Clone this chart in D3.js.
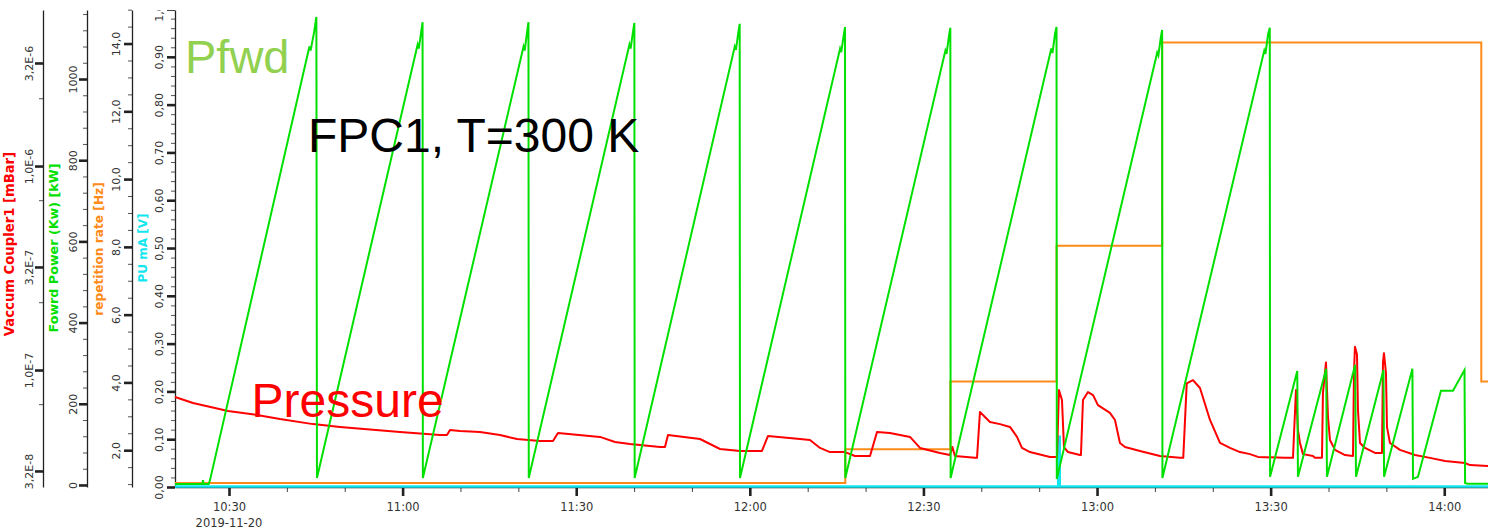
<!DOCTYPE html>
<html><head><meta charset="utf-8">
<script src="https://cdn.jsdelivr.net/npm/d3@7"></script>
<style>
body{margin:0;background:#fff}
svg{display:block}
</style>
</head><body>
<svg id="c" width="1488" height="530"></svg>
<script>
// ---- DATA (time = minutes after 10:00 on 2019-11-20) ----
const dateLabel = "2019-11-20";
const timeExtent = [20.67, 247.56];

// Vaccum Coupler1 [mBar]  (red, log axis)
const pressure = [
 [20.67,7.38e-8],[23.78,6.89e-8],[29.83,6.30e-8],[34.84,6.02e-8],[38.81,5.75e-8],[44.52,5.43e-8],
 [49.18,5.26e-8],[59.55,4.97e-8],[66.46,4.80e-8],[67.67,4.80e-8],[68.19,5.08e-8],[69.92,5.02e-8],
 [73.37,4.97e-8],[76.83,4.80e-8],[79.77,4.59e-8],[83.74,4.49e-8],[85.99,4.49e-8],[86.85,4.91e-8],
 [94.11,4.70e-8],[96.70,4.44e-8],[99.29,4.34e-8],[104.48,4.19e-8],[105.34,4.19e-8],[105.86,4.80e-8],
 [111.39,4.59e-8],[114.85,4.10e-8],[118.30,4.01e-8],[122.10,4.01e-8],[123.14,4.75e-8],[128.67,4.59e-8],
 [130.40,4.54e-8],[132.13,4.15e-8],[133.85,3.96e-8],[136.45,3.96e-8],[138.17,3.79e-8],[140.77,3.79e-8],
 [141.98,4.97e-8],[144.22,4.91e-8],[147.68,4.70e-8],[149.41,4.15e-8],[152.86,3.92e-8],[154.59,3.83e-8],
 [155.00,4.19e-8],[155.45,3.79e-8],[158.91,3.71e-8],[159.26,3.71e-8],[159.77,6.23e-8],[161.50,5.56e-8],
 [163.23,5.43e-8],[164.96,5.26e-8],[166.17,4.70e-8],[167.03,4.15e-8],[168.41,3.96e-8],[171.87,3.75e-8],
 [173.08,3.75e-8],[173.42,7.98e-8],[173.94,7.13e-8],[174.29,4.19e-8],[174.98,3.96e-8],[177.05,3.83e-8],
 [177.22,3.83e-8],[177.57,7.13e-8],[178.44,7.80e-8],[179.30,7.54e-8],[180.16,6.73e-8],[182.23,6.16e-8],
 [183.10,5.69e-8],[183.96,4.39e-8],[184.83,4.19e-8],[187.42,4.01e-8],[190.88,3.79e-8],[194.33,3.71e-8],
 [194.90,3.71e-8],[195.50,8.60e-8],[196.58,8.93e-8],[197.79,8.16e-8],[199.52,5.69e-8],[201.25,4.39e-8],
 [202.97,4.15e-8],[204.70,3.96e-8],[206.43,3.87e-8],[207.81,3.75e-8],[212.48,3.71e-8],[213.86,3.71e-8],
 [214.03,4.80e-8],[214.38,7.98e-8],[214.72,5.08e-8],[215.07,4.39e-8],[215.59,3.87e-8],[217.32,3.79e-8],
 [217.66,3.71e-8],[218.87,3.71e-8],[219.04,7.71e-8],[219.56,1.09e-7],[219.91,5.88e-8],[220.25,4.54e-8],
 [221.12,4.06e-8],[222.85,3.83e-8],[224.23,3.79e-8],[224.40,9.67e-8],[224.57,1.30e-7],[224.92,1.19e-7],
 [225.09,6.37e-8],[225.44,4.39e-8],[226.30,4.15e-8],[228.03,3.92e-8],[229.24,3.92e-8],[229.41,1.09e-7],
 [229.58,1.21e-7],[229.93,9.67e-8],[230.10,5.26e-8],[230.62,4.39e-8],[232.35,4.06e-8],[234.94,3.83e-8],
 [237.53,3.71e-8],[240.13,3.58e-8],[243.58,3.50e-8],[244.45,3.42e-8],[247.56,3.38e-8]
];

// Fowrd Power (Kw) [kW]  (green)
const power = [
 [20.67,2.5],[25.4,2.5],[25.5,12],[25.6,2.5],[26.5,2.5],
 [26.72,12],[43.9,1080],[44.1,1070],[44.7,1115],[45.1,1153],[45.2,17],
 [62.6,1085],[62.8,1075],[63.25,1120],[63.45,1140],[63.5,17],
 [80.9,1080],[81.1,1070],[81.55,1120],[81.75,1140],[81.8,17],
 [99.2,1085],[99.4,1075],[99.85,1120],[100.05,1138],[100.1,17],
 [117.4,1080],[117.6,1072],[118.05,1118],[118.25,1136],[118.3,17],
 [135.6,1075],[135.8,1066],[136.25,1110],[136.45,1128],[136.5,17],
 [153.8,1070],[154.0,1062],[154.45,1110],[154.65,1126],[154.7,17],
 [172.1,1075],[172.3,1064],[172.75,1112],[173.0,1128],[173.05,15],
 [190.4,1065],[190.6,1058],[191.05,1105],[191.25,1121],[191.3,17],
 [208.9,1070],[209.1,1062],[209.55,1110],[209.85,1126],[209.9,20],
 [214.6,281],[214.72,20],
 [219.6,286],[219.73,20],
 [224.6,296],[224.75,20],
 [229.5,283],[229.6,20],
 [234.5,286],[234.6,15],
 [235.46,20],[239.43,232],[241.51,232],[243.5,283],[243.6,5],[244.0,3],[247.56,3]
];

// repetition rate [Hz]  (orange, steps)
const rateTime = [20.67, 136.5, 154.65, 173.0, 191.25, 246.4, 247.56];
const rateHz   = [1, 2, 4, 8, 14, 4, 4];

// PU mA [V]  (cyan)
const puTime = [20.67, 173.3, 173.3, 173.55, 173.55, 247.56];
const puVolt = [0.001, 0.001, 0.105, 0.105, 0.001, 0.001];

// ---- TICKS ----
const vacTicks = [3.2e-8, 1e-7, 3.2e-7, 1e-6, 3.2e-6];
const vacLabels = ["3,2E-8","1,0E-7","3,2E-7","1,0E-6","3,2E-6"];
const vacMinor = [6.8e-8, 2.15e-7, 6.8e-7, 2.15e-6];
const powTicks = [0,200,400,600,800,1000];
const powLabels = ["0","200","400","600","800","1000"];
const rateTicks = [2,4,6,8,10,12,14];
const rateLabels = ["2,0","4,0","6,0","8,0","10,0","12,0","14,0"];
const puTicks = [0,0.1,0.2,0.3,0.4,0.5,0.6,0.7,0.8,0.9,1.0];
const puLabels = ["0,00","0,10","0,20","0,30","0,40","0,50","0,60","0,70","0,80","0,90","1,00"];
const timeTicks = [30, 60, 90, 120, 150, 180, 210, 240];
const timeLabels = ["10:30","11:00","11:30","12:00","12:30","13:00","13:30","14:00"];

// ---- DRAW ----
const svg = d3.select("#c");
const base = new Date(2019,10,20,10,0,0);
const T = m => new Date(base.getTime() + m*60000);

const x = d3.scaleTime().domain(timeExtent.map(T)).range([175,1488]);
const yVac = d3.scaleLog().domain([2.67e-8, 5.82e-6]).range([487,10]);
const yPow = d3.scaleLinear().domain([-5,1170]).range([487,10]);
const yRate = d3.scaleLinear().domain([0.914,14.99]).range([487,10]);
const yPU = d3.scaleLinear().domain([0,0.998]).range([487,10]);

const tickColor = "#222", labColor = "#333";

svg.append("defs").append("clipPath").attr("id","topclip")
  .append("rect").attr("x",-60).attr("y",10).attr("width",80).attr("height",520);

function yAxis(xPos, scale, major, labels, minor, off, title, tcol, tx, ty, tsize, clip){
  const g = svg.append("g").attr("transform",`translate(${xPos},0)`)
    .attr("font-family","DejaVu Sans, sans-serif");
  const mi = g.append("g").call(d3.axisLeft(scale).tickValues(minor).tickSize(4).tickSizeOuter(0).tickFormat(""));
  mi.select(".domain").remove();
  mi.selectAll("line").attr("stroke","#555").attr("stroke-width",1);
  const ma = g.append("g").call(d3.axisLeft(scale).tickValues(major).tickSize(8).tickSizeOuter(0).tickFormat((d,i)=>labels[i]));
  ma.attr("font-family",null).attr("font-size",null);
  ma.select(".domain").attr("stroke","#222").attr("stroke-width",1.3);
  ma.selectAll(".tick line").attr("stroke",tickColor).attr("stroke-width",2.6);
  ma.selectAll(".tick text").attr("transform","rotate(-90)").attr("x",0).attr("y",-off)
    .attr("dy",0).attr("text-anchor","middle").attr("font-size","11px").attr("fill",labColor)
    .attr("font-family","DejaVu Sans, sans-serif");
  if (clip) ma.attr("clip-path","url(#topclip)");
  svg.append("text").attr("transform",`translate(${tx},${ty}) rotate(-90)`)
    .attr("text-anchor","middle").attr("font-family","DejaVu Sans, sans-serif")
    .attr("font-weight","bold").attr("font-size",tsize+"px").attr("fill",tcol).text(title);
}

const colRed="#ff0000", colGreen="#00e000", colOrange="#ff8c1a", colCyan="#14e6f0";

yAxis(43, yVac, vacTicks, vacLabels, vacMinor, 10, "Vaccum Coupler1 [mBar]", colRed, 14, 244, 13.2, false);
yAxis(87, yPow, powTicks, powLabels, d3.range(40,1170,40).filter(v=>v%200!==0), 10, "Fowrd Power (Kw) [kW]", colGreen, 58, 248, 12.7, false);
yAxis(132, yRate, rateTicks, rateLabels, d3.range(1,15.01,0.5).filter(v=>v%2!==0), 12, "repetition rate [Hz]", colOrange, 103, 249, 12.2, false);
yAxis(175, yPU, puTicks, puLabels, d3.range(0.02,1.0,0.02).filter(v=>Math.abs(v*10-Math.round(v*10))>1e-6), 12, "PU mA [V]", colCyan, 147, 248, 12, true);

// x axis
const xg = svg.append("g").attr("transform","translate(0,487)");
const xMinor = d3.range(30,241,10).filter(m=>m%30!==0);
const xmi = xg.append("g").call(d3.axisBottom(x).tickValues(xMinor.map(T)).tickSize(5).tickSizeOuter(0).tickFormat(""));
xmi.select(".domain").remove();
xmi.selectAll("line").attr("stroke","#444").attr("stroke-width",1);
const xma = xg.append("g").call(d3.axisBottom(x).tickValues(timeTicks.map(T)).tickSize(9).tickSizeOuter(0).tickFormat((d,i)=>timeLabels[i]));
xma.select(".domain").attr("stroke","#222").attr("stroke-width",1.5);
xma.selectAll(".tick line").attr("stroke",tickColor).attr("stroke-width",2.6);
xma.selectAll(".tick text").attr("y",24).attr("dy",0).attr("font-size","11.5px")
   .attr("font-family","DejaVu Sans, sans-serif").attr("fill",labColor);
svg.append("text").attr("x",x(T(timeTicks[0]))).attr("y",527).attr("text-anchor","middle")
  .attr("font-family","DejaVu Sans, sans-serif").attr("font-size","11.5px").attr("fill",labColor).text(dateLabel);

// series
const plot = svg.append("g");
const rateData = rateTime.map((t,i)=>[t,rateHz[i]]);
const puData = puTime.map((t,i)=>[t,puVolt[i]]);

plot.append("path").datum(puData).attr("fill","none").attr("stroke",colCyan).attr("stroke-width",2.6)
  .attr("d", d3.line().x(d=>x(T(d[0]))).y(d=>yPU(d[1])));
plot.append("path").datum(rateData).attr("fill","none").attr("stroke",colOrange).attr("stroke-width",2)
  .attr("d", d3.line().curve(d3.curveStepAfter).x(d=>x(T(d[0]))).y(d=>yRate(d[1]) - 1));
plot.append("path").datum(pressure).attr("fill","none").attr("stroke",colRed).attr("stroke-width",2)
  .attr("stroke-linejoin","round")
  .attr("d", d3.line().x(d=>x(T(d[0]))).y(d=>yVac(d[1])));
plot.append("path").datum(power).attr("fill","none").attr("stroke",colGreen).attr("stroke-width",2)
  .attr("d", d3.line().x(d=>x(T(d[0]))).y(d=>yPow(d[1])));

// annotations
const ann = svg.append("g").attr("font-family","Liberation Sans, Arial, sans-serif");
ann.append("text").attr("x",185).attr("y",73).attr("font-size","47px").attr("fill","#92d050").text("Pfwd");
ann.append("text").attr("x",308).attr("y",152).attr("font-size","48px").attr("fill","#000").text("FPC1, T=300 K");
ann.append("text").attr("x",251.5).attr("y",417).attr("font-size","48px").attr("fill",colRed).text("Pressure");
</script>
</body></html>
